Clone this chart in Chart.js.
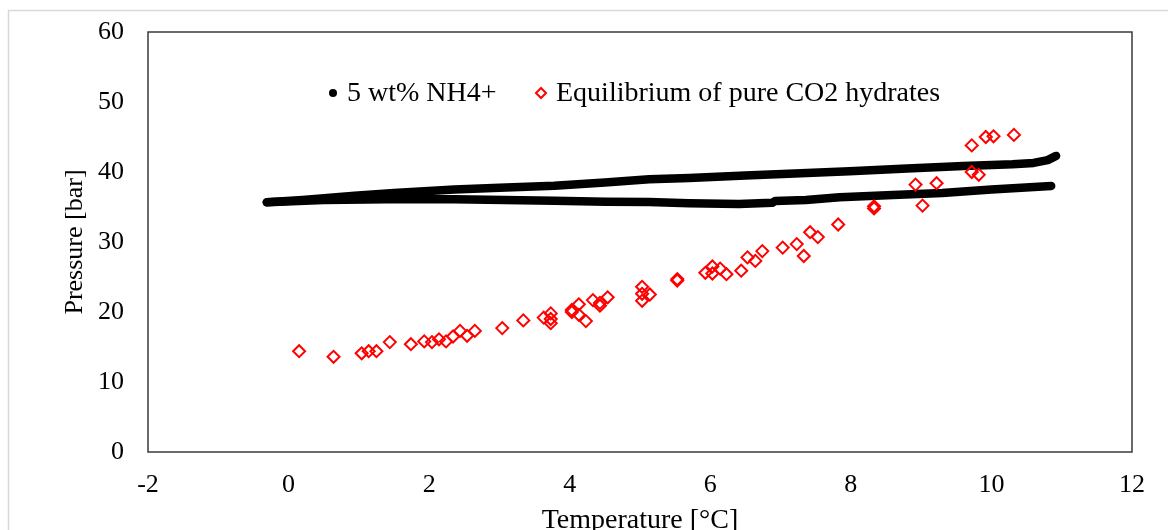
<!DOCTYPE html>
<html><head><meta charset="utf-8">
<script src="https://cdn.jsdelivr.net/npm/chart.js@4.4.1/dist/chart.umd.min.js"></script>
<style>html,body{margin:0;padding:0;overflow:hidden;background:#fff}canvas{display:block}</style>
</head><body>
<canvas id="c" width="1168" height="548"></canvas>
<script>
// 5 wt% NH4+ : heating branch and cooling branch
const nh4UpTemp = [-0.31, 0.2, 0.94, 1.5, 2.36, 3.0, 3.78, 4.5, 5.13, 5.7, 6.5, 7.2, 7.98, 8.8, 9.6, 10.3, 10.6, 10.8, 10.92];
const nh4UpPres = [35.67, 36.0, 36.6, 37.0, 37.5, 37.75, 38.05, 38.5, 38.95, 39.15, 39.5, 39.8, 40.1, 40.5, 40.85, 41.1, 41.3, 41.7, 42.3];
const nh4DnTemp = [10.85, 10.0, 9.3, 8.6, 7.84, 7.36, 6.92, 6.88, 6.41, 5.7, 5.13, 4.52, 3.78, 2.36, 1.4, 0.5, -0.31];
const nh4DnPres = [38.0, 37.5, 37.0, 36.7, 36.38, 36.0, 35.85, 35.6, 35.43, 35.52, 35.7, 35.76, 35.9, 36.1, 36.1, 36.0, 35.67];
// Equilibrium of pure CO2 hydrates
const co2Temp = [0.15, 0.64, 1.04, 1.14, 1.25, 1.44, 1.74, 1.93, 2.04, 2.14, 2.24, 2.34, 2.44, 2.54, 2.65, 3.04, 3.34, 3.63,
                 3.73, 3.73, 3.73, 4.03, 4.03, 4.13, 4.13, 4.23, 4.33, 4.43, 4.43, 4.54, 5.03, 5.03, 5.03, 5.14, 5.53, 5.53,
                 5.93, 6.03, 6.03, 6.14, 6.23, 6.44, 6.53, 6.64, 6.74, 7.03, 7.23, 7.33, 7.42, 7.53, 7.82, 8.33, 8.33,
                 8.92, 9.02, 9.22, 9.72, 9.72, 9.82, 9.92, 10.03, 10.32];
const co2Pres = [14.4, 13.6, 14.1, 14.4, 14.4, 15.7, 15.4, 15.8, 15.7, 16.1, 15.8, 16.5, 17.3, 16.6, 17.3, 17.7, 18.8, 19.2,
                 19.8, 19.0, 18.4, 20.3, 20.0, 21.1, 19.6, 18.7, 21.7, 21.3, 20.9, 22.1, 23.6, 22.6, 21.6, 22.5, 24.7, 24.5,
                 25.6, 26.5, 25.5, 26.2, 25.4, 25.9, 27.8, 27.3, 28.7, 29.2, 29.7, 28.0, 31.4, 30.7, 32.5, 35.1, 34.8,
                 38.2, 35.2, 38.4, 43.8, 40.0, 39.6, 45.0, 45.1, 45.3];
const xTicks = [-2, 0, 2, 4, 6, 8, 10, 12];
const yTicks = [0, 10, 20, 30, 40, 50, 60];
const seriesNames = ['5 wt% NH4+', 'Equilibrium of pure CO2 hydrates'];
const xTitle = 'Temperature [°C]';
const yTitle = 'Pressure [bar]';

const FONT = 'Liberation Serif, Times New Roman, serif';
const pts = (xs, ys) => xs.map((x, i) => ({x: x, y: ys[i]}));

const framePlugin = {
  id: 'frame',
  beforeDraw(chart) {
    const ctx = chart.ctx;
    ctx.save();
    ctx.fillStyle = '#fff';
    ctx.fillRect(0, 0, chart.width, chart.height);
    ctx.strokeStyle = '#d9d9d9';
    ctx.lineWidth = 1.5;
    ctx.strokeRect(8.5, 10.5, 3000, 3000);
    ctx.restore();
  },
  beforeDatasetsDraw(chart) {
    const a = chart.chartArea, ctx = chart.ctx;
    ctx.save();
    ctx.strokeStyle = '#3a3a3a';
    ctx.lineWidth = 1.5;
    ctx.strokeRect(a.left, a.top, a.right - a.left, a.bottom - a.top);
    ctx.restore();
  },
  afterDatasetsDraw(chart) {
    const ctx = chart.ctx;
    ctx.save();
    ctx.font = '28px ' + FONT;
    ctx.textBaseline = 'middle';
    ctx.fillStyle = '#000';
    const cy = 93;
    ctx.beginPath();
    ctx.arc(333, cy, 4, 0, Math.PI * 2);
    ctx.fill();
    ctx.fillText(seriesNames[0], 347, cy + 1);
    ctx.strokeStyle = '#ff0000';
    ctx.lineWidth = 2;
    ctx.beginPath();
    ctx.moveTo(541, cy - 5); ctx.lineTo(546, cy); ctx.lineTo(541, cy + 5); ctx.lineTo(536, cy); ctx.closePath();
    ctx.stroke();
    ctx.fillText(seriesNames[1], 556, cy + 1);
    ctx.restore();
  }
};

const blackLine = {
  showLine: true, borderColor: '#000', backgroundColor: '#000', borderWidth: 8.5, pointRadius: 0,
  borderCapStyle: 'round', borderJoinStyle: 'round', tension: 0, order: 2
};

new Chart(document.getElementById('c'), {
  type: 'scatter',
  data: {
    datasets: [
      Object.assign({label: seriesNames[0], data: pts(nh4UpTemp, nh4UpPres)}, blackLine),
      Object.assign({label: seriesNames[0], data: pts(nh4DnTemp, nh4DnPres)}, blackLine),
      {
        label: seriesNames[1], data: pts(co2Temp, co2Pres), showLine: false,
        pointStyle: 'rectRot', pointRadius: 6, borderColor: '#ff0000', borderWidth: 2,
        backgroundColor: 'rgba(0,0,0,0)', order: 1
      }
    ]
  },
  options: {
    responsive: false, animation: false,
    layout: {padding: {top: 32, right: 36, left: 0, bottom: 0}},
    plugins: {legend: {display: false}, tooltip: {enabled: false}},
    scales: {
      x: {
        type: 'linear', min: xTicks[0], max: xTicks[xTicks.length - 1],
        afterBuildTicks: s => { s.ticks = xTicks.map(v => ({value: v})); },
        afterFit: s => { s.height = 548 - 452; s.paddingLeft = 0; s.paddingRight = 0; },
        grid: {display: false, drawTicks: false},
        border: {display: false},
        ticks: {color: '#000', font: {family: FONT, size: 26}, padding: 18, maxRotation: 0},
        title: {display: true, text: xTitle, color: '#000', font: {family: FONT, size: 28}, padding: {top: 0, bottom: 11}}
      },
      y: {
        type: 'linear', min: yTicks[0], max: yTicks[yTicks.length - 1],
        afterBuildTicks: s => { s.ticks = yTicks.map(v => ({value: v})); },
        afterFit: s => { s.width = 148; s.paddingTop = 0; s.paddingBottom = 0; },
        grid: {display: false, drawTicks: false},
        border: {display: false},
        ticks: {color: '#000', font: {family: FONT, size: 26}, padding: 24},
        title: {display: true, text: yTitle, color: '#000', font: {family: FONT, size: 26}, padding: {top: 60, bottom: 0}}
      }
    }
  },
  plugins: [framePlugin]
});
</script>
</body></html>
